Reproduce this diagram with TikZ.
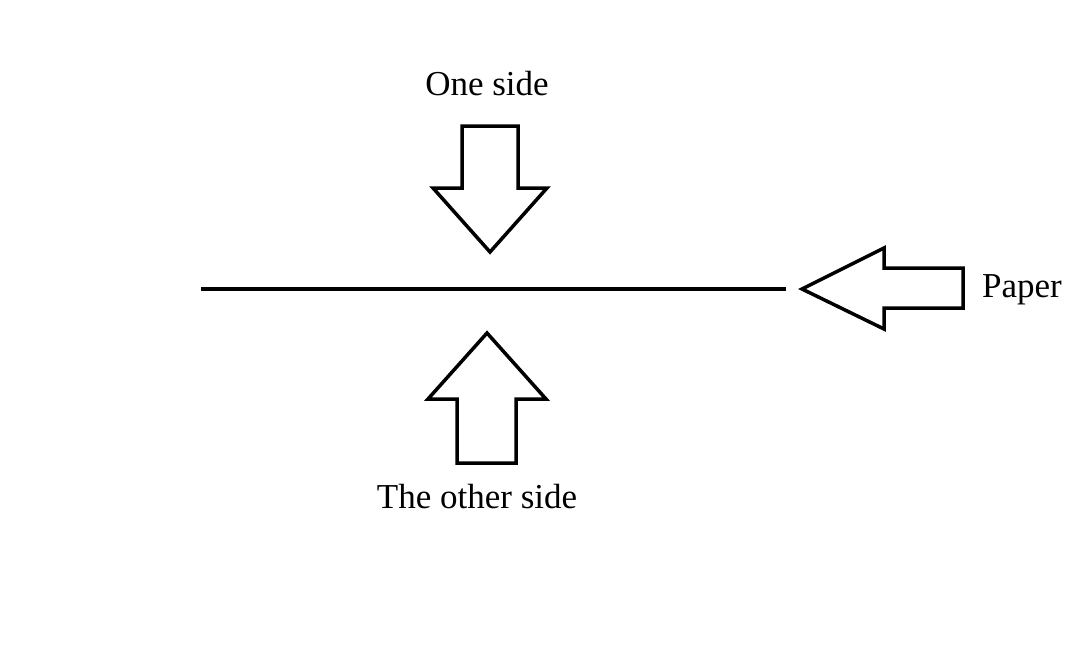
\documentclass[tikz,border=0pt]{standalone}
\usepackage{fontspec}
\setmainfont{Liberation Serif}
\begin{document}
\begin{tikzpicture}[x=1pt,y=-1pt,
  blockarrow/.style={draw=black,line width=3.5pt,line join=miter,fill=white},
  paperline/.style={draw=black,line width=4pt},
  lbl/.style={font=\fontsize{35}{40}\selectfont,anchor=base,inner sep=0pt}]
\useasboundingbox (0,0) rectangle (1092,656);
% top arrow (pointing down)
\draw[blockarrow] (462,126) -- (518,126) -- (518,188) -- (547,188) -- (490,252)
  -- (433,188) -- (462,188) -- cycle;
% bottom arrow (pointing up)
\draw[blockarrow] (457,463) -- (516,463) -- (516,399) -- (546,399) -- (487,333)
  -- (428,399) -- (457,399) -- cycle;
% right arrow (pointing left)
\draw[blockarrow] (963,268) -- (963,308) -- (884,308) -- (884,329) -- (802,289)
  -- (884,248) -- (884,268) -- cycle;
% paper line
\coordinate (pl) at (201,289);
\coordinate (pr) at (786,289);
\draw[paperline] (pl) -- (pr);
\node[lbl] (one) at (487,95) {One side};
\node[lbl] (other) at (477,508) {The other side};
\node[lbl] (paper) at (1022,297) {Paper};
\end{tikzpicture}
\end{document}
